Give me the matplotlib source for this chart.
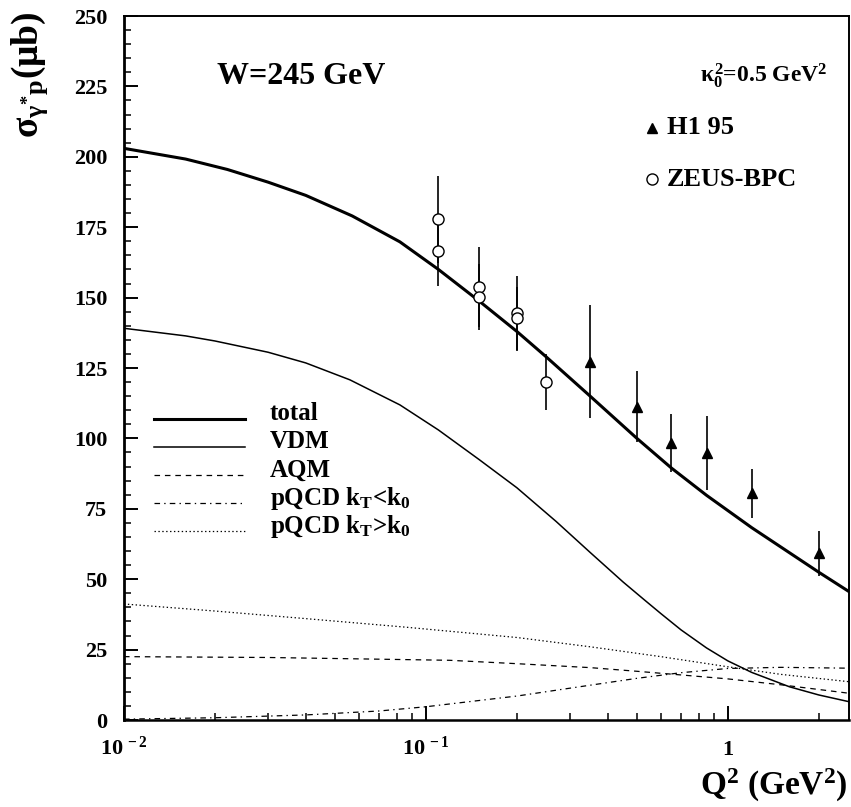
import matplotlib
matplotlib.use("Agg")
import matplotlib.pyplot as plt
from matplotlib.ticker import MultipleLocator, LogLocator, NullFormatter

plt.rcParams['font.family'] = ['Liberation Serif', 'DejaVu Serif']
plt.rcParams['font.weight'] = 'bold'
plt.rcParams['mathtext.fontset'] = 'custom'
plt.rcParams['mathtext.rm'] = 'Liberation Serif:bold'
plt.rcParams['mathtext.it'] = 'Liberation Serif:bold'
plt.rcParams['mathtext.bf'] = 'Liberation Serif:bold'
plt.rcParams['lines.scale_dashes'] = False

# ---- data ----
total_x = [0.01, 0.016, 0.022, 0.03, 0.04, 0.057, 0.082, 0.11, 0.15, 0.2, 0.25, 0.35, 0.5, 0.65, 0.85, 1.2, 2.0, 2.52]
total_y = [203.0, 199.2, 195.5, 191.0, 186.3, 179.0, 169.8, 160.0, 148.8, 138.0, 129.0, 115.0, 100.0, 89.5, 79.8, 68.3, 52.5, 45.6]

vdm_x = [0.01, 0.016, 0.02, 0.03, 0.04, 0.056, 0.082, 0.11, 0.15, 0.2, 0.27, 0.35, 0.45, 0.53, 0.6, 0.7, 0.85, 1.0, 1.2, 1.6, 2.0, 2.52]
vdm_y = [139.1, 136.4, 134.6, 130.6, 126.8, 120.8, 111.9, 103.0, 92.5, 82.5, 70.5, 59.5, 49.0, 42.6, 37.8, 32.0, 25.6, 21.0, 16.9, 11.8, 8.9, 6.5]

aqm_x = [0.01, 0.03, 0.08, 0.12, 0.2, 0.35, 0.5, 0.7, 1.0, 1.5, 2.52]
aqm_y = [22.5, 22.2, 21.5, 21.2, 20.0, 18.6, 17.3, 16.0, 14.6, 12.5, 9.5]

pqcd_lo_x = [0.01, 0.02, 0.04, 0.07, 0.1, 0.2, 0.3, 0.5, 0.7, 1.0, 1.5, 2.52]
pqcd_lo_y = [0.3, 0.8, 1.8, 3.2, 4.7, 8.5, 11.3, 14.8, 16.8, 18.3, 18.7, 18.4]

pqcd_hi_x = [0.01, 0.02, 0.04, 0.085, 0.2, 0.35, 0.6, 1.0, 1.5, 2.52]
pqcd_hi_y = [41.2, 38.7, 36.0, 33.0, 29.3, 26.0, 22.5, 18.9, 16.2, 13.6]

h1_x = [0.35, 0.5, 0.65, 0.85, 1.2, 2.0]
h1_y = [127.2, 111.3, 98.3, 94.7, 80.5, 59.2]
h1_err = [20.0, 12.6, 10.3, 13.1, 8.6, 8.0]

zeus_x = [0.11, 0.11, 0.15, 0.15, 0.2, 0.2, 0.25]
zeus_y = [177.8, 166.5, 153.6, 150.3, 144.4, 142.6, 120.1]
zeus_err = [15.4, 12.4, 14.2, 11.8, 13.3, 11.2, 10.0]

xticks = [0.01, 0.1, 1]
xtick_labels = [r'$10^{\,-2}$', r'$10^{\,-1}$', '1']
yticks = [0, 25, 50, 75, 100, 125, 150, 175, 200, 225, 250]

legend_labels = ['total', 'VDM', 'AQM', r'pQCD k$_\mathregular{T}$<k$_\mathregular{0}$', r'pQCD k$_\mathregular{T}$>k$_\mathregular{0}$']

# ---- figure ----
W, H = 851, 807
fig = plt.figure(figsize=(W / 100, H / 100), dpi=100)
ax = fig.add_axes([124 / W, 1 - 720 / H, (849 - 124) / W, (720 - 16) / H])
ax.set_xscale('log')
ax.set_xlim(0.01, 2.52)
ax.set_ylim(0, 250)

styles = [
    dict(color='black', lw=2.2, ls='-'),
    dict(color='black', lw=1.1, ls='-'),
    dict(color='black', lw=0.9, ls=(0, (4, 3.5))),
    dict(color='black', lw=0.9, ls=(0, (4, 3, 1, 3))),
    dict(color='black', lw=0.9, ls=(0, (1, 1.8))),
]
series = [(total_x, total_y), (vdm_x, vdm_y), (aqm_x, aqm_y), (pqcd_lo_x, pqcd_lo_y), (pqcd_hi_x, pqcd_hi_y)]
for (xs, ys), st in zip(series, styles):
    ax.plot(xs, ys, **st)

ax.errorbar(h1_x, h1_y, yerr=h1_err, fmt='^', color='black', ms=7.5, elinewidth=1.2, capsize=0, zorder=5)
ax.errorbar(zeus_x, zeus_y, yerr=zeus_err, fmt='o', color='black', mfc='white', mew=1.0, ms=8, elinewidth=1.2, capsize=0, zorder=5)

# ticks
ax.set_xticks(xticks)
ax.set_xticklabels(xtick_labels)
ax.xaxis.set_minor_locator(LogLocator(base=10, subs=range(2, 10)))
ax.xaxis.set_minor_formatter(NullFormatter())
ax.set_yticks(yticks)
ax.yaxis.set_minor_locator(MultipleLocator(5))
ax.tick_params(which='both', direction='in', top=False, right=False)
ax.tick_params(which='major', length=10, width=1.4, labelsize=16)
ax.tick_params(which='minor', length=5, width=1.1)
ax.tick_params(axis='y', pad=12)
ax.tick_params(axis='x', pad=25)
for lab in ax.get_xticklabels():
    lab.set_verticalalignment('baseline')
for sp in ax.spines.values():
    sp.set_linewidth(1.4)
ax.spines['left'].set_linewidth(2.0)
ax.spines['bottom'].set_linewidth(1.8)

# text
ax.text(217 / W, 1 - 76 / H, 'W=245 GeV', transform=fig.transFigure, fontsize=23, va='center', ha='left')
ax.text(700 / W, 1 - 76 / H, r'$\kappa_0^2$=0.5 GeV$^2$', transform=fig.transFigure, fontsize=17, va='center', ha='left')

ax.plot([652 / W], [1 - 128 / H], marker='^', color='black', ms=7.5, transform=fig.transFigure, clip_on=False)
ax.text(667 / W, 1 - 128 / H, 'H1 95', transform=fig.transFigure, fontsize=19, va='center', ha='left')
ax.plot([652 / W], [1 - 179 / H], marker='o', color='black', mfc='white', mew=1.0, ms=8, transform=fig.transFigure, clip_on=False)
ax.text(667 / W, 1 - 179 / H, 'ZEUS-BPC', transform=fig.transFigure, fontsize=19, va='center', ha='left')

leg_line_y = [419, 447, 475, 503, 531]
for ly, st, lab in zip(leg_line_y, styles, legend_labels):
    ax.plot([154 / W, 245 / W], [1 - ly / H, 1 - ly / H], transform=fig.transFigure, clip_on=False, **st)
    ax.text(270 / W, 1 - (ly - 5) / H, lab, transform=fig.transFigure, fontsize=18, va='center', ha='left')

fig.text(30 / W, 1 - 12 / H, r'$\sigma_{\gamma^{*}p}$(μb)', rotation=90, fontsize=27, va='top', ha='center')
fig.text(848 / W, 1 - 785 / H, r'Q$^2$ (GeV$^2$)', fontsize=24, va='center', ha='right')

fig.savefig('out.png', dpi=100)
